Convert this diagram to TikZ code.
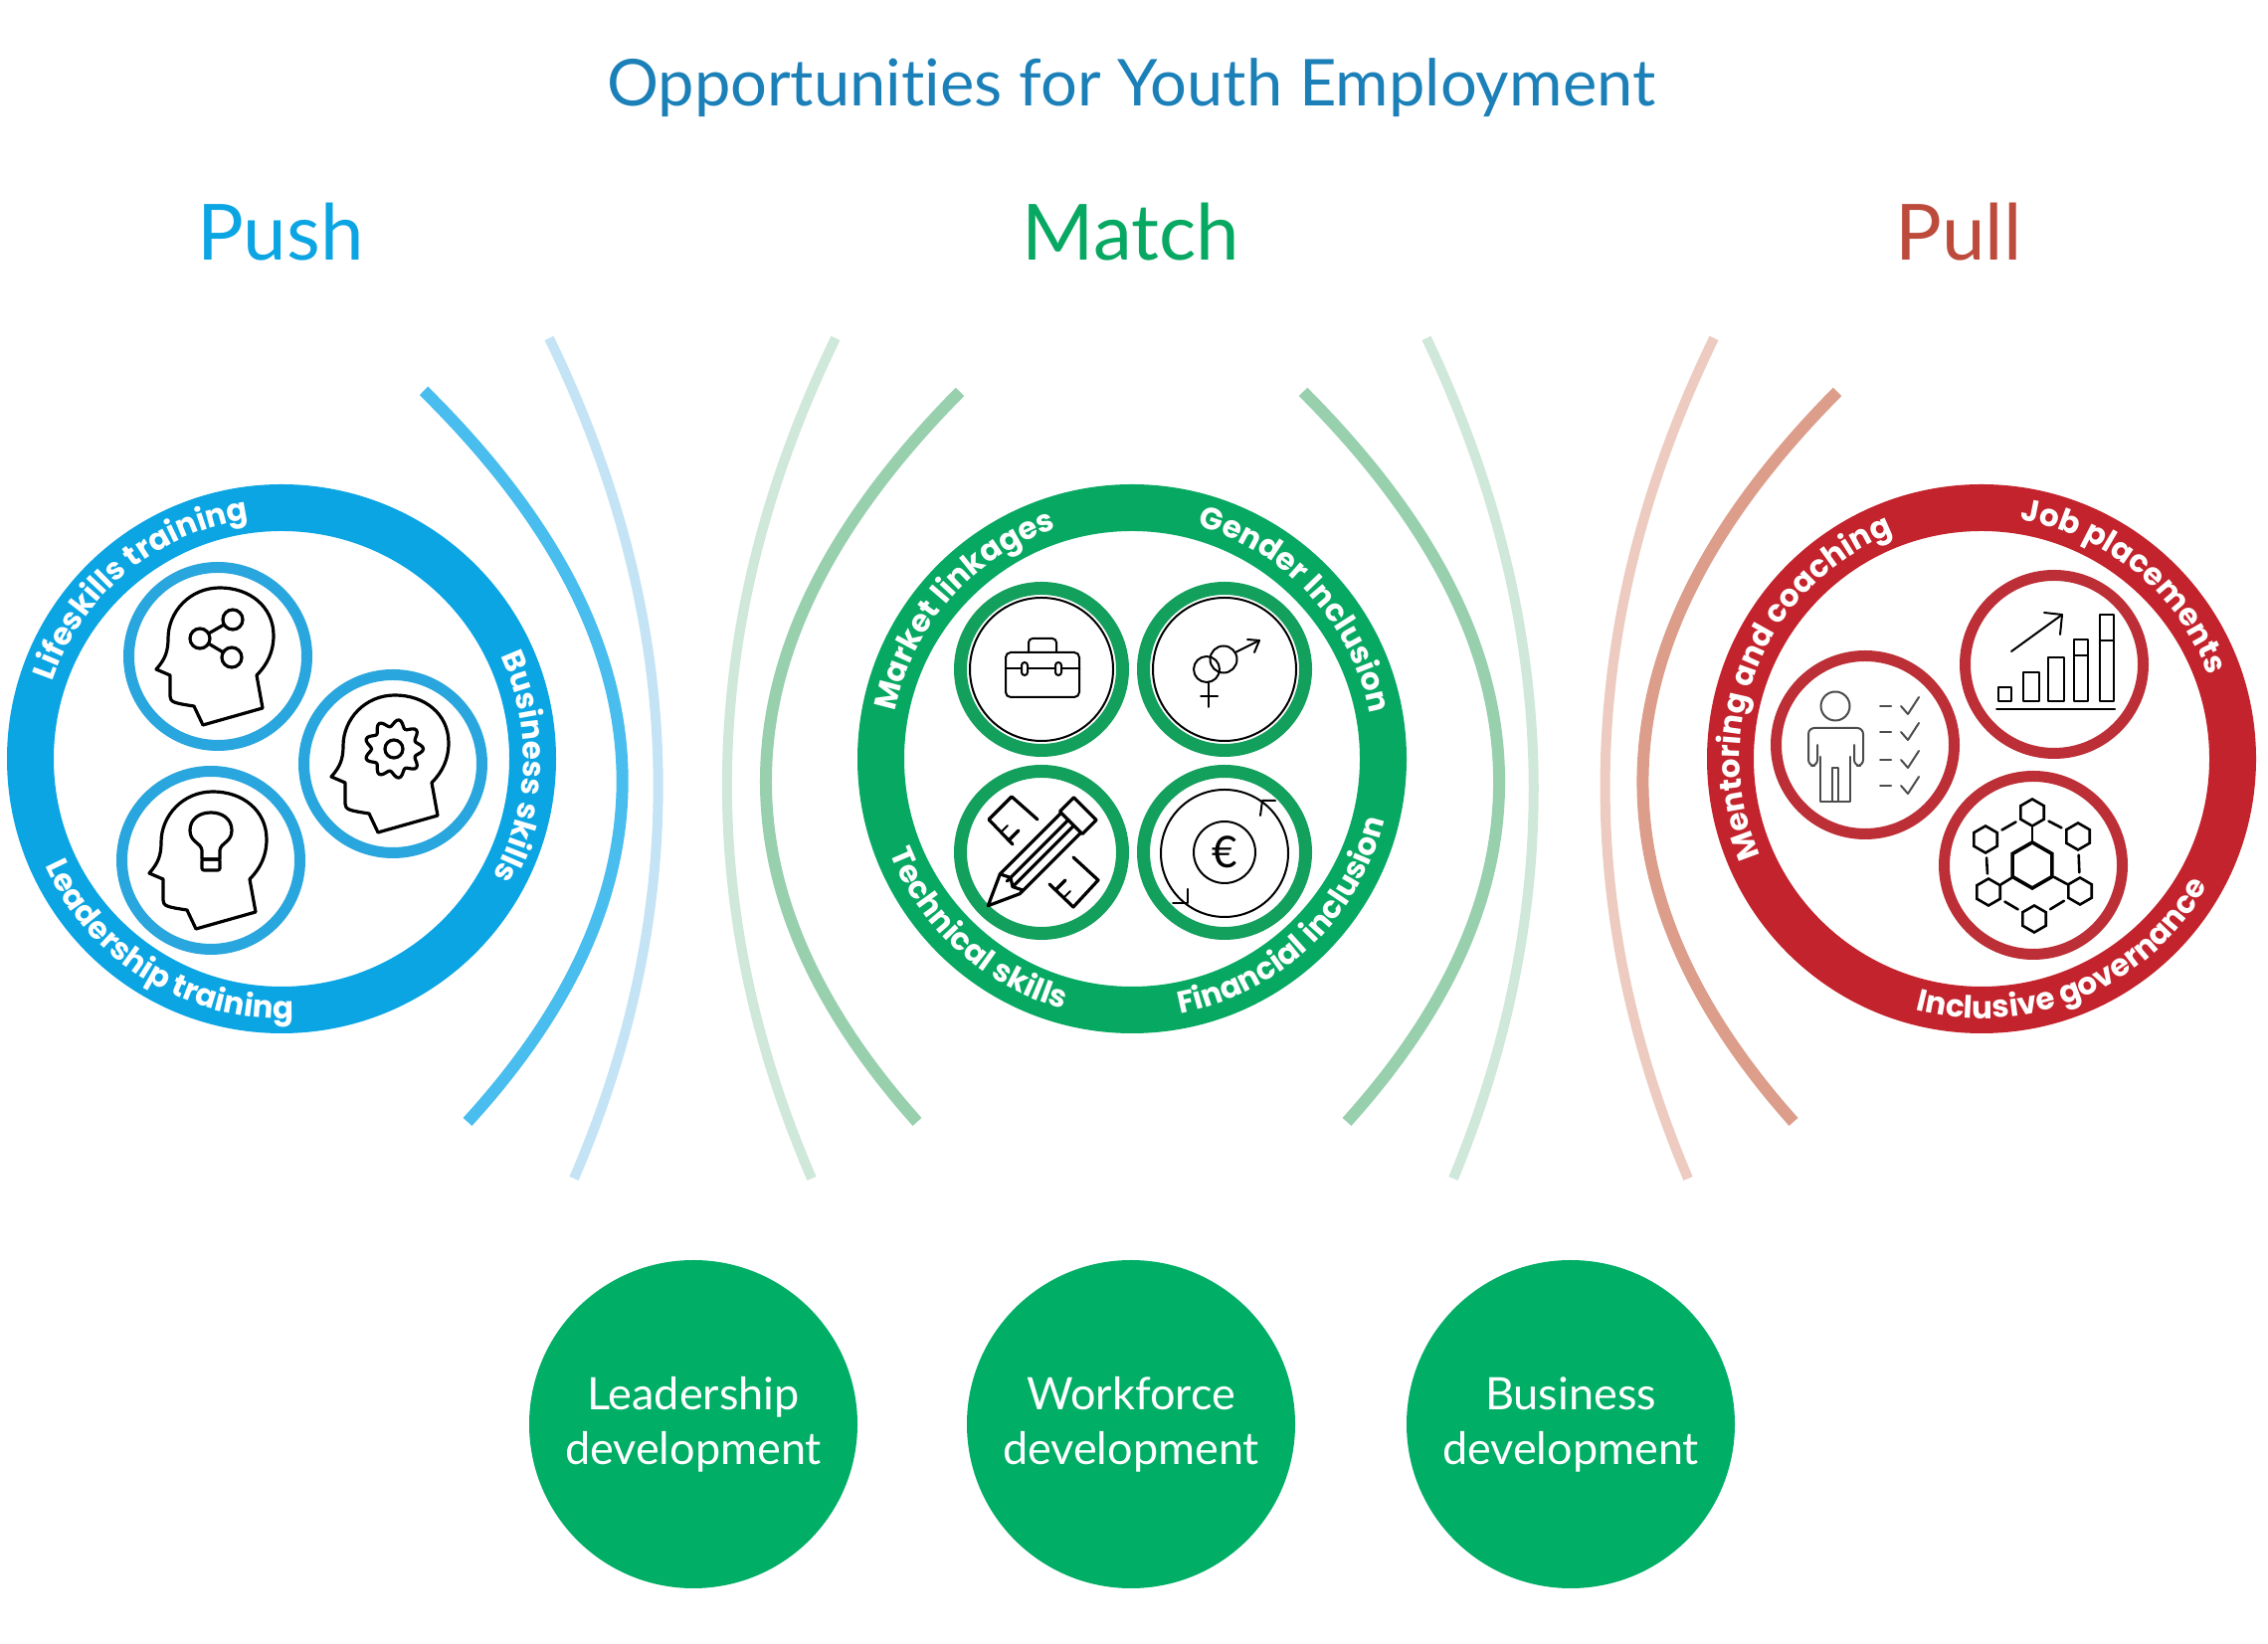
\documentclass[tikz,border=0pt]{standalone}
\usepackage{fontspec}
\usepackage{tikz}
\usetikzlibrary{decorations.text,shapes.geometric}
\setmainfont{Lato}[Ligatures=NoCommon]
\newfontfamily\ringfamily{Poppins}
\definecolor{titleblue}{HTML}{1C80B8}
\definecolor{pushblue}{HTML}{0BA5E4}
\definecolor{pushdisc}{HTML}{2AA6DE}
\definecolor{pushmid}{HTML}{48BDEE}
\definecolor{pushpale}{HTML}{C4E4F6}
\definecolor{matchgreen}{HTML}{07A862}
\definecolor{matchdisc}{HTML}{139F5C}
\definecolor{matchmid}{HTML}{98D0AE}
\definecolor{matchpale}{HTML}{CFE8DA}
\definecolor{devgreen}{HTML}{00AE66}
\definecolor{pullred}{HTML}{C3232C}
\definecolor{pulldisc}{HTML}{BD2F36}
\definecolor{pullhead}{HTML}{BC4B3C}
\definecolor{pullmid}{HTML}{DC9D8B}
\definecolor{pullpale}{HTML}{EDCBC0}
\newcommand{\ringfont}{\ringfamily\bfseries\fontsize{31}{31}\selectfont\color{white}}
% one white label bent along a ring
\newcommand{\ringlabel}[4]{\path[decorate,decoration={text along path,text align=center,text={|\ringfont|#4}}] (#1:#3) arc[start angle=#1,end angle=#2,radius=#3];}
% head outline, centre of its disc at the origin
\newcommand{\headline}{\path[icon] (-15,-69) -- (45,-52) -- (39,-19) .. controls (50,-8) and (56,5) .. (56,21) .. controls (56,50) and (32,69) .. (2,69) .. controls (-28,69) and (-50,45) .. (-50,18) .. controls (-50,5) and (-53,-3) .. (-62,-13) -- (-48,-19) -- (-48,-40) .. controls (-48,-46) and (-44,-47) .. (-24,-50) -- cycle;}
\tikzset{
  icon/.style={draw=black,line width=3.2pt,line join=round,line cap=round},
  thinicon/.style={draw=black,line width=2pt,line join=round,line cap=round},
  ringdisc/.style={circle,line width=47pt,minimum size=505pt,inner sep=0pt},
  icondisc/.style={circle,line width=11pt,minimum size=179pt,inner sep=0pt},
  matchicondisc/.style={circle,draw=matchdisc,line width=13pt,minimum size=163pt,inner sep=0pt},
  devdisc/.style={circle,fill=devgreen,minimum size=330pt,inner sep=0pt,text=white,align=center,font=\fontsize{45}{55}\selectfont},
  heading/.style={font=\fontsize{78}{78}\selectfont,inner sep=0pt},
  hexnode/.style={regular polygon,regular polygon sides=6,shape border rotate=30,draw=black,line width=2.6pt,minimum size=27pt,inner sep=0pt},
  wave/.style={line width=#1,line cap=butt}
}
\begin{document}
\begin{tikzpicture}[x=1pt,y=1pt]
\useasboundingbox (0,0) rectangle (2280,1653);
% headings:
\node[font=\fontsize{65}{65}\selectfont,text=titleblue,inner sep=0pt] (title) at (1137,1565) {Opportunities for Youth Employment};
\node[heading,text=pushblue] (push) at (282,1420) {Push};
\node[heading,text=matchgreen] (match) at (1137,1420) {Match};
\node[heading,text=pullhead] (pull) at (1969,1420) {Pull};
% arcs between the rings:
\path[draw=pushmid,wave=12pt] (426,1260) .. controls (677,1012) and (691,767) .. (470,525);
\path[draw=pushpale,wave=10pt] (552,1313) .. controls (689,1031) and (698,749) .. (577,468);
\path[draw=matchpale,wave=10pt] (840,1313) .. controls (703,1031) and (695,749) .. (816,468);
\path[draw=matchmid,wave=12pt] (965,1259) .. controls (720,1012) and (706,767) .. (922,525);
\path[draw=matchmid,wave=12pt] (1310,1259) .. controls (1557,1012) and (1572,767) .. (1354,525);
\path[draw=matchpale,wave=10pt] (1434,1313) .. controls (1568,1031) and (1577,749) .. (1461,468);
\path[draw=pullpale,wave=10pt] (1723,1313) .. controls (1586,1031) and (1578,749) .. (1697,468);
\path[draw=pullmid,wave=12pt] (1847,1259) .. controls (1602,1012) and (1587,767) .. (1803,525);
% the three rings:
\node[ringdisc,draw=pushblue] (pushring) at (283,890) {};
\node[ringdisc,draw=matchgreen] (matchring) at (1138,890) {};
\node[ringdisc,draw=pullred] (pullring) at (1992,890) {};
\begin{scope}[shift={(pushring)}]
\ringlabel{161}{98}{243}{Lifeskills training}
\ringlabel{25}{-29}{243}{Business skills}
\ringlabel{199}{278}{261}{Leadership training}
\end{scope}
\begin{scope}[shift={(matchring)}]
\ringlabel{170}{107}{243}{Market linkages}
\ringlabel{75}{10}{243}{Gender Inclusion}
\ringlabel{199}{257}{261}{Technical skills}
\ringlabel{279}{348}{261}{Financial inclusion}
\end{scope}
\begin{scope}[shift={(pullring)}]
\ringlabel{205}{110}{243}{Mentoring and coaching}
\ringlabel{81}{20}{243}{Job placements}
\ringlabel{252}{334}{261}{Inclusive governance}
\end{scope}
% push discs:
\node[icondisc,draw=pushdisc] (share) at (219,993) {};
\node[icondisc,draw=pushdisc] (gear) at (395,885) {};
\node[icondisc,draw=pushdisc] (bulb) at (212,788) {};
\begin{scope}[shift={(share)}]
\headline
\node[circle,icon,minimum size=20pt,inner sep=0pt] (sharea) at (-18,18) {};
\node[circle,icon,minimum size=20pt,inner sep=0pt] (shareb) at (15,37) {};
\node[circle,icon,minimum size=20pt,inner sep=0pt] (sharec) at (14,-1) {};
\path[icon] (sharea) -- (shareb);
\path[icon] (sharea) -- (sharec);
\end{scope}
\begin{scope}[shift={(gear)}]
\headline
\begin{scope}[shift={(1,15)}]
\path[icon] plot[domain=0:356,samples=90,smooth cycle] (\x:{26+3.5*cos(9*\x)});
\path[icon] (0,0) circle (9);
\end{scope}
\end{scope}
\begin{scope}[shift={(bulb)}]
\headline
\path[icon] (-9,1) -- (-9,10) .. controls (-10,18) and (-21,18) .. (-21,30) .. controls (-21,42) and (-11,48) .. (0,48) .. controls (11,48) and (21,42) .. (21,30) .. controls (21,18) and (10,18) .. (9,10) -- (9,1) -- cycle;
\path[icon,rounded corners=2pt] (-9,1) rectangle (9,-10);
\end{scope}
% match discs:
\node[matchicondisc] (tools) at (1047,980) {};
\node[matchicondisc] (gender) at (1231,980) {};
\node[matchicondisc] (pencil) at (1047,796) {};
\node[matchicondisc] (euro) at (1231,796) {};
\begin{scope}[shift={(tools)}]
\path[thinicon] (0,0) circle (72);
\path[thinicon,rounded corners=5pt] (-36,0) -- (-36,17) -- (38,17) -- (38,0);
\path[thinicon,rounded corners=5pt] (-36,1) -- (-36,-28) -- (38,-28) -- (38,1);
\path[thinicon] (-36,1) -- (38,1);
\path[thinicon,rounded corners=4pt] (-13,17) -- (-13,31) -- (15,31) -- (15,17);
\path[thinicon,rounded corners=3pt,fill=white] (-20,-6) rectangle (-14,7);
\path[thinicon,rounded corners=3pt,fill=white] (14,-6) rectangle (20,7);
\end{scope}
\begin{scope}[shift={(gender)}]
\path[thinicon] (0,0) circle (72);
\path[thinicon] (-18,0) circle (13);
\path[thinicon] (-1,10) circle (13.5);
\path[thinicon] (-16,-13) -- (-16,-38);
\path[thinicon] (-24,-27) -- (-7,-27);
\path[thinicon] (11,17) -- (35,29);
\path[thinicon] (23,30) -- (35,29) -- (30,17);
\end{scope}
\begin{scope}[shift={(pencil)}]
\path[icon] (-4,33) -- (-30,56) -- (-53,33) -- (-29,8);
\path[thinicon] (-41,20) -- (-34,27);
\path[icon] (-33,12) -- (-23,22);
\path[icon] (32,-5) -- (57,-28) -- (32,-55) -- (8,-32);
\path[thinicon] (22,-46) -- (29,-39);
\path[icon] (14,-38) -- (24,-28);
\begin{scope}[rotate=45]
\path[icon] (42,-16) rectangle (62,16);
\path[icon,fill=white] (-45,-14) -- (42,-14) -- (42,14) -- (-45,14) -- (-76,0) -- cycle;
\path[icon] (-45,-4) -- (42,-4);
\path[icon] (-45,4) -- (42,4);
\path[icon] (-45,14) -- (-40,4) -- (-45,-4) -- (-40,-14);
\end{scope}
\end{scope}
\begin{scope}[shift={(euro)}]
\path[thinicon] (0,-1) circle (64);
\path[thinicon] (0,0) circle (31);
\path[thinicon] (51,52) -- (38,52) -- (36,37);
\path[thinicon] (-52,-51) -- (-37,-51) -- (-37,-37);
\node[font=\fontsize{44}{44}\selectfont,inner sep=0pt] (eurosign) at (0,0) {€};
\end{scope}
% pull discs:
\node[icondisc,draw=pulldisc] (person) at (1875,904) {};
\node[icondisc,draw=pulldisc] (chart) at (2065,985) {};
\node[icondisc,draw=pulldisc] (network) at (2044,783) {};
\begin{scope}[shift={(person)}]
\path[thinicon,draw=black!70] (-30,39) circle (14.5);
\path[thinicon,draw=black!70,rounded corners=6pt] (-48,0) -- (-48,-21) -- (-57,-21) -- (-57,17) -- (-2,17) -- (-2,-21) -- (-11,-21) -- (-11,0);
\path[thinicon,draw=black!70] (-45,-12) -- (-45,-57) -- (-15,-57) -- (-15,-12);
\path[thinicon,draw=black!70] (-33,-57) -- (-33,-23) -- (-27,-23) -- (-27,-57);
\foreach \y in {39,13,-15,-41} {
  \path[thinicon,draw=black!70] (15,\y) -- (26,\y);
  \path[thinicon,draw=black!70] (36,\y) -- (43,\y-8) -- (54,\y+9);
}
\end{scope}
\begin{scope}[shift={(chart)}]
\path[thinicon] (-58,-45) -- (61,-45);
\path[thinicon] (-56,-37) rectangle (-43,-23);
\path[thinicon] (-31,-37) rectangle (-15,-8);
\path[thinicon] (-6,-37) rectangle (10,7);
\path[thinicon] (20,-37) rectangle (34,25);
\path[thinicon] (20,9) -- (34,9);
\path[thinicon] (46,-37) rectangle (60,50);
\path[thinicon] (46,24) -- (60,24);
\path[thinicon] (-43,13) -- (8,50);
\path[thinicon] (-10,52) -- (8,50) -- (6,30);
\end{scope}
\begin{scope}[shift={(network)}]
\node[hexnode,minimum size=46pt,line width=3.6pt] (hexmid) at (-1,0) {};
\node[hexnode] (hextop) at (-1,53) {};
\node[hexnode] (hexul) at (-48,26) {};
\node[hexnode] (hexur) at (45,29) {};
\node[hexnode] (hexll) at (-45,-27) {};
\node[hexnode] (hexlr) at (47,-26) {};
\node[hexnode] (hexbot) at (1,-54) {};
\path[icon,shorten >=4pt,shorten <=4pt,line width=2.6pt] (hextop) -- (hexul);
\path[icon,shorten >=4pt,shorten <=4pt,line width=2.6pt] (hextop) -- (hexur);
\path[icon,shorten >=4pt,shorten <=4pt,line width=2.6pt] (hexul) -- (hexll);
\path[icon,shorten >=4pt,shorten <=4pt,line width=2.6pt] (hexur) -- (hexlr);
\path[icon,shorten >=4pt,shorten <=4pt,line width=2.6pt] (hexll) -- (hexbot);
\path[icon,shorten >=4pt,shorten <=4pt,line width=2.6pt] (hexlr) -- (hexbot);
\path[icon,line width=2.6pt] (hexmid) -- (hextop);
\path[icon,line width=2.6pt] (hexmid) -- (hexll);
\path[icon,line width=2.6pt] (hexmid) -- (hexlr);
\end{scope}
% bottom circles:
\node[devdisc] (leaddev) at (697,221) {Leadership\\development};
\node[devdisc] (workdev) at (1137,221) {Workforce\\development};
\node[devdisc] (busdev) at (1579,221) {Business\\development};
\end{tikzpicture}
\end{document}
